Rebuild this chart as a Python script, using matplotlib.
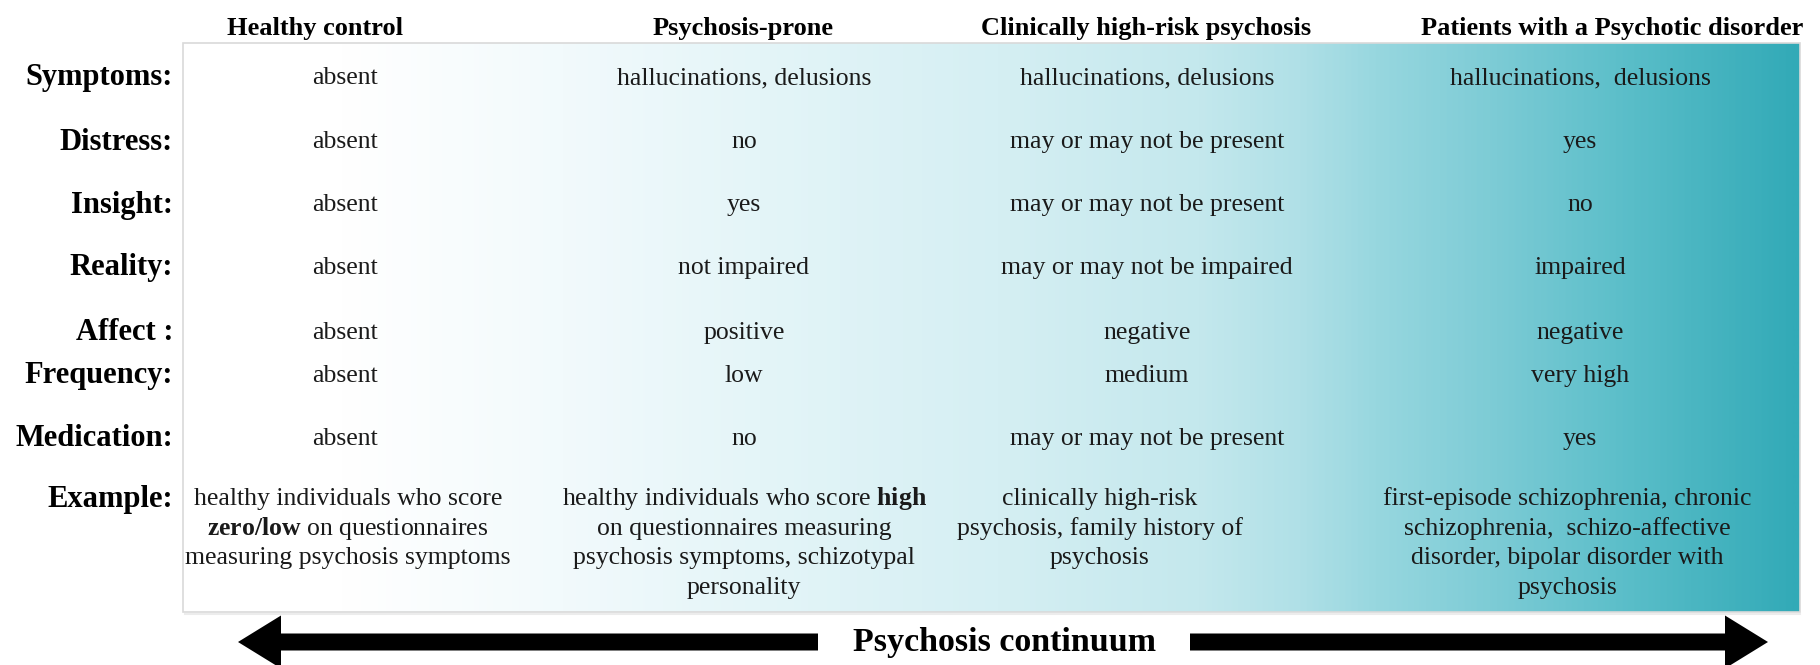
import numpy as np
import matplotlib
matplotlib.use("Agg")
import matplotlib.pyplot as plt
from matplotlib.colors import LinearSegmentedColormap
from matplotlib.patches import FancyArrow, Rectangle

plt.rcParams['font.family'] = ['Liberation Serif', 'DejaVu Serif']
plt.rcParams['mathtext.fontset'] = 'custom'
plt.rcParams['mathtext.rm'] = 'Liberation Serif'
plt.rcParams['mathtext.bf'] = 'Liberation Serif:bold'

# table content
groups = ['Healthy control', 'Psychosis-prone', 'Clinically high-risk psychosis',
          'Patients with a Psychotic disorder']
row_labels = ['Symptoms:', 'Distress:', 'Insight:', 'Reality:', 'Affect :',
              'Frequency:', 'Medication:']
healthy = ['absent'] * 7
prone = ['hallucinations, delusions', 'no', 'yes', 'not impaired', 'positive', 'low', 'no']
chr_psy = ['hallucinations, delusions', 'may or may not be present', 'may or may not be present',
           'may or may not be impaired', 'negative', 'medium', 'may or may not be present']
patients = ['hallucinations,  delusions', 'yes', 'no', 'impaired', 'negative', 'very high', 'yes']
columns = [healthy, prone, chr_psy, patients]

example_label = 'Example:'
examples = [
    'healthy individuals who score\n$\\mathbf{zero/low}$ on questionnaires\nmeasuring psychosis symptoms',
    'healthy individuals who score $\\mathbf{high}$\non questionnaires measuring\npsychosis symptoms, schizotypal\npersonality',
    'clinically high-risk\npsychosis, family history of\npsychosis',
    'first-episode schizophrenia, chronic\nschizophrenia,  schizo-affective\ndisorder, bipolar disorder with\npsychosis',
]
continuum_label = 'Psychosis continuum'

# layout (pixel space)
W, H = 1820, 665
box = (183, 43, 1800, 612)  # left, top, right, bottom
header_x = [315, 743, 1146, 1612]
col_x = [345, 744, 1147, 1580]
example_x = [348, 744, 1100, 1567]
row_y = [78, 142, 205, 268, 333, 376, 439]
example_y = 499
line_h = 29.7
label_x = 173

fig = plt.figure(figsize=(W / 100, H / 100), dpi=100)
ax = fig.add_axes([0, 0, 1, 1])
ax.set_xlim(0, W)
ax.set_ylim(H, 0)
ax.axis('off')

# background gradient
stops = [(183, '#ffffff'), (340, '#ffffff'), (560, '#f2fafc'), (760, '#e4f5f8'),
         (1000, '#d5eff3'), (1200, '#c4e8ed'), (1300, '#b0e0e7'), (1380, '#97d7df'),
         (1500, '#7ccbd5'), (1620, '#5dbfca'), (1800, '#32aab7')]
pos = [(x - box[0]) / (box[2] - box[0]) for x, _ in stops]
cmap = LinearSegmentedColormap.from_list('cont', list(zip(pos, [c for _, c in stops])))
grad = np.linspace(0, 1, 800).reshape(1, -1)
ax.imshow(grad, cmap=cmap, extent=[box[0], box[2], box[3], box[1]], aspect='auto',
          interpolation='bilinear', zorder=0)
ax.add_patch(Rectangle((box[0], box[1]), box[2] - box[0], box[3] - box[1],
                       fill=False, edgecolor='#d9d9d9', lw=1.2, zorder=1))
ax.plot([box[0] + 2, box[2]], [box[3] + 2, box[3] + 2], color='#ececec', lw=1.5, zorder=1)

# headers
for x, g in zip(header_x, groups):
    ax.text(x, 28, g, ha='center', va='center', fontsize=19, fontweight='bold')

# row labels and cells
for i, (lab, y) in enumerate(zip(row_labels, row_y)):
    ax.text(label_x, y, lab, ha='right', va='center', fontsize=22, fontweight='bold')
    for x, col in zip(col_x, columns):
        ax.text(x, y, col[i], ha='center', va='center', fontsize=18.5, color='#1a1a1a')

ax.text(label_x, example_y, example_label, ha='right', va='center', fontsize=22,
        fontweight='bold')
for x, ex in zip(example_x, examples):
    for j, line in enumerate(ex.split('\n')):
        ax.text(x, example_y + j * line_h, line, ha='center', va='center', fontsize=18.5,
                color='#1a1a1a')

# continuum arrows
ay = 642
ax.add_patch(FancyArrow(818, ay, 238 - 818, 0, width=17, head_width=53, head_length=43,
                        length_includes_head=True, color='black', lw=0))
ax.add_patch(FancyArrow(1190, ay, 1768 - 1190, 0, width=17, head_width=53, head_length=43,
                        length_includes_head=True, color='black', lw=0))
ax.text(1005, ay, continuum_label, ha='center', va='center', fontsize=24.5, fontweight='bold')

fig.savefig('out.png', dpi=100)
